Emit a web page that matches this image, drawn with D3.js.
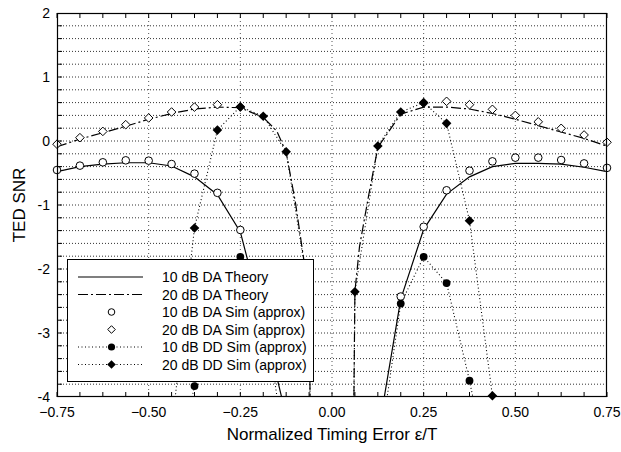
<!DOCTYPE html>
<html><head><meta charset="utf-8">
<script src="https://cdn.jsdelivr.net/npm/d3@7"></script>
<style>
html,body{margin:0;padding:0;background:#fff;}
svg{display:block;font-family:"Liberation Sans",Arial,sans-serif;}
</style></head>
<body><svg id="c" width="621" height="452"></svg>
<script>
// ---------- data ----------
const eps = [-0.75,-0.6875,-0.625,-0.5625,-0.5,-0.4375,-0.375,-0.3125,-0.25,-0.1875,-0.125,-0.0625,0,0.0625,0.125,0.1875,0.25,0.3125,0.375,0.4375,0.5,0.5625,0.625,0.6875,0.75];
const sim10DA = [-0.453,-0.385,-0.333,-0.302,-0.307,-0.36,-0.51,-0.81,-1.39,-2.45,null,null,null,null,null,-2.43,-1.34,-0.77,-0.464,-0.318,-0.26,-0.26,-0.297,-0.35,-0.42];
const sim20DA = [-0.05,0.052,0.15,0.255,0.36,0.453,0.53,0.567,0.53,null,null,null,null,null,null,null,0.59,0.62,0.567,0.495,0.40,0.30,0.198,0.094,-0.02];
const sim10DD = [null,null,null,null,null,-5.5,-3.83,-2.25,-1.81,-2.5,-5,null,null,null,-5,-2.54,-1.81,-2.22,-3.745,-5.5,null,null,null,null,null];
const sim20DD = [null,null,null,null,null,-4.5,-1.36,0.17,0.536,0.386,-0.167,-2.4,-40,-2.355,-0.078,0.453,0.60,0.276,-1.245,-3.98,null,null,null,null,null];

const th10X = [-0.75,-0.6875,-0.625,-0.5625,-0.5,-0.4375,-0.375,-0.3125,-0.25,-0.1875,-0.125,0,0.125,0.1875,0.25,0.3125,0.375,0.4375,0.5,0.5625,0.625,0.6875,0.75];
const th10Y = [-0.48,-0.40,-0.36,-0.34,-0.34,-0.39,-0.56,-0.84,-1.42,-2.8,-4.3,null,-4.6,-2.47,-1.38,-0.83,-0.56,-0.40,-0.35,-0.35,-0.36,-0.41,-0.48];
const th20X = [-0.75,-0.6875,-0.625,-0.5625,-0.5,-0.4375,-0.375,-0.3125,-0.25,-0.1875,-0.15,-0.125,-0.1,-0.078,-0.0625,0,0.0625,0.075,0.1,0.125,0.1875,0.25,0.3125,0.375,0.4375,0.5,0.5625,0.625,0.6875,0.75];
const th20Y = [-0.09,0.03,0.13,0.23,0.34,0.43,0.50,0.53,0.52,0.37,0.15,-0.18,-0.95,-1.81,-2.4,-40,-2.35,-1.65,-0.85,-0.1,0.42,0.53,0.53,0.50,0.43,0.34,0.24,0.14,0.04,-0.08];

const xTickLabels = [-0.75,-0.5,-0.25,0,0.25,0.5,0.75];
const xMinorTicks = [-0.75,-0.6875,-0.625,-0.5625,-0.5,-0.4375,-0.375,-0.3125,-0.25,-0.1875,-0.125,-0.0625,0,0.0625,0.125,0.1875,0.25,0.3125,0.375,0.4375,0.5,0.5625,0.625,0.6875,0.75];
const xGrid = [-0.5,-0.25,0,0.25,0.5];
const yTickLabels = [-4,-3,-2,-1,0,1,2];
const yMinorTicks = [-3.8,-3.6,-3.4,-3.2,-3,-2.8,-2.6,-2.4,-2.2,-2,-1.8,-1.6,-1.4,-1.2,-1,-0.8,-0.6,-0.4,-0.2,0,0.2,0.4,0.6,0.8,1,1.2,1.4,1.6,1.8];
const legendLabels = ["10 dB DA Theory","20 dB DA Theory","10 dB DA Sim (approx)","20 dB DA Sim (approx)","10 dB DD Sim (approx)","20 dB DD Sim (approx)"];

// ---------- layout ----------
const W=621,H=452, L=57, R=607, T=13, B=397;
const x = d3.scaleLinear().domain([-0.75,0.75]).range([L,R]);
const y = d3.scaleLinear().domain([-4,2]).range([B,T]);
const svg = d3.select("#c");
const defs = svg.append("defs");
defs.append("clipPath").attr("id","clipL").append("rect").attr("x",L).attr("y",T).attr("width",R-L).attr("height",B-T);
defs.append("clipPath").attr("id","clipM").append("rect").attr("x",L-6).attr("y",T-6).attr("width",R-L+12).attr("height",B-T+12);

// grid
const grid = svg.append("g");
grid.selectAll(".hg").data(yMinorTicks).join("line")
  .attr("x1",L).attr("x2",R).attr("y1",d=>y(d)).attr("y2",d=>y(d))
  .attr("stroke","#333").attr("stroke-width",1).attr("stroke-dasharray","1,2");
grid.selectAll(".vg").data(xGrid).join("line")
  .attr("y1",T).attr("y2",B).attr("x1",d=>x(d)).attr("x2",d=>x(d))
  .attr("stroke","#555").attr("stroke-width",1).attr("stroke-dasharray","1,3");

// lines
const gl = svg.append("g").attr("clip-path","url(#clipL)");
function pairs(xs,ys){ return xs.map((v,i)=>[v,ys[i]]); }
const line = d3.line().defined(d=>d[1]!==null).x(d=>x(d[0])).y(d=>y(d[1]));
gl.append("path").attr("d",line(pairs(th10X,th10Y))).attr("fill","none").attr("stroke","#000").attr("stroke-width",1.2);
gl.append("path").attr("d",line(pairs(th20X,th20Y))).attr("fill","none").attr("stroke","#000").attr("stroke-width",1.2).attr("stroke-dasharray","10,3,2,3");
gl.append("path").attr("d",line(pairs(eps,sim10DD))).attr("fill","none").attr("stroke","#000").attr("stroke-width",1.1).attr("stroke-dasharray","1,2.5");
gl.append("path").attr("d",line(pairs(eps,sim20DD))).attr("fill","none").attr("stroke","#000").attr("stroke-width",1.1).attr("stroke-dasharray","1,2.5");

// markers
const gm = svg.append("g").attr("clip-path","url(#clipM)");
const diamond = (cx,cy,r)=>`M${cx},${cy-r}L${cx+r},${cy}L${cx},${cy+r}L${cx-r},${cy}Z`;
gm.selectAll(".c10").data(pairs(eps,sim10DA).filter(d=>d[1]!==null)).join("circle")
  .attr("cx",d=>x(d[0])).attr("cy",d=>y(d[1])).attr("r",3.8).attr("fill","#fff").attr("stroke","#000").attr("stroke-width",1);
gm.selectAll(".d20").data(pairs(eps,sim20DA).filter(d=>d[1]!==null)).join("path")
  .attr("d",d=>diamond(x(d[0]),y(d[1]),4.3)).attr("fill","#fff").attr("stroke","#000").attr("stroke-width",1);
gm.selectAll(".c10f").data(pairs(eps,sim10DD).filter(d=>d[1]!==null)).join("circle")
  .attr("cx",d=>x(d[0])).attr("cy",d=>y(d[1])).attr("r",3.9).attr("fill","#000");
gm.selectAll(".d20f").data(pairs(eps,sim20DD).filter(d=>d[1]!==null)).join("path")
  .attr("d",d=>diamond(x(d[0]),y(d[1]),4.8)).attr("fill","#000");

// legend
const lg = svg.append("g");
lg.append("rect").attr("x",67.5).attr("y",259.5).attr("width",246).attr("height",122).attr("fill","#fff").attr("stroke","#000").attr("stroke-width",1);
const ly = i => 277 + i*17.5;
const sx1=78, sx2=143, smx=111.5;
lg.append("line").attr("x1",sx1).attr("x2",sx2).attr("y1",ly(0)).attr("y2",ly(0)).attr("stroke","#000").attr("stroke-width",1.2);
lg.append("line").attr("x1",sx1).attr("x2",sx2).attr("y1",ly(1)).attr("y2",ly(1)).attr("stroke","#000").attr("stroke-width",1.2).attr("stroke-dasharray","10,3,2,3");
lg.append("circle").attr("cx",smx).attr("cy",ly(2)).attr("r",3.3).attr("fill","#fff").attr("stroke","#000");
lg.append("path").attr("d",diamond(smx,ly(3),3.8)).attr("fill","#fff").attr("stroke","#000");
lg.append("line").attr("x1",sx1).attr("x2",sx2).attr("y1",ly(4)).attr("y2",ly(4)).attr("stroke","#000").attr("stroke-dasharray","1,2.5");
lg.append("circle").attr("cx",smx).attr("cy",ly(4)).attr("r",3.6).attr("fill","#000");
lg.append("line").attr("x1",sx1).attr("x2",sx2).attr("y1",ly(5)).attr("y2",ly(5)).attr("stroke","#000").attr("stroke-dasharray","1,2.5");
lg.append("path").attr("d",diamond(smx,ly(5),4.3)).attr("fill","#000");
lg.selectAll(".lt").data(legendLabels).join("text")
  .attr("x",162).attr("y",(d,i)=>ly(i)+5).attr("font-size",14).attr("fill","#000").text(d=>d);

// frame & ticks
svg.append("rect").attr("x",L+0.5).attr("y",T+0.5).attr("width",R-L-1).attr("height",B-T-1).attr("fill","none").attr("stroke","#000").attr("stroke-width",1.2);
const tk = svg.append("g").attr("stroke","#000").attr("stroke-width",1);
tk.selectAll(".bt").data(xMinorTicks).join("line").attr("x1",d=>x(d)).attr("x2",d=>x(d)).attr("y1",B).attr("y2",B-5);
tk.selectAll(".tt").data(xMinorTicks).join("line").attr("x1",d=>x(d)).attr("x2",d=>x(d)).attr("y1",T).attr("y2",T+5);
tk.selectAll(".lt").data(yMinorTicks).join("line").attr("x1",L).attr("x2",L+5).attr("y1",d=>y(d)).attr("y2",d=>y(d));

// tick labels
svg.selectAll(".xl").data(xTickLabels).join("text")
  .attr("x",d=>x(d)).attr("y",417).attr("text-anchor","middle").attr("font-size",14).text(d=>d3.format(".2f")(d));
svg.selectAll(".yl").data(yTickLabels).join("text")
  .attr("x",50).attr("y",d=>y(d)+5).attr("text-anchor","end").attr("font-size",14).text(d=>String(d));

// axis titles
svg.append("text").attr("x",(L+R)/2).attr("y",440).attr("text-anchor","middle").attr("font-size",17).text("Normalized Timing Error ε/T");
svg.append("text").attr("transform",`translate(25,${(T+B)/2}) rotate(-90)`).attr("text-anchor","middle").attr("font-size",17).text("TED SNR");
</script></body></html>
